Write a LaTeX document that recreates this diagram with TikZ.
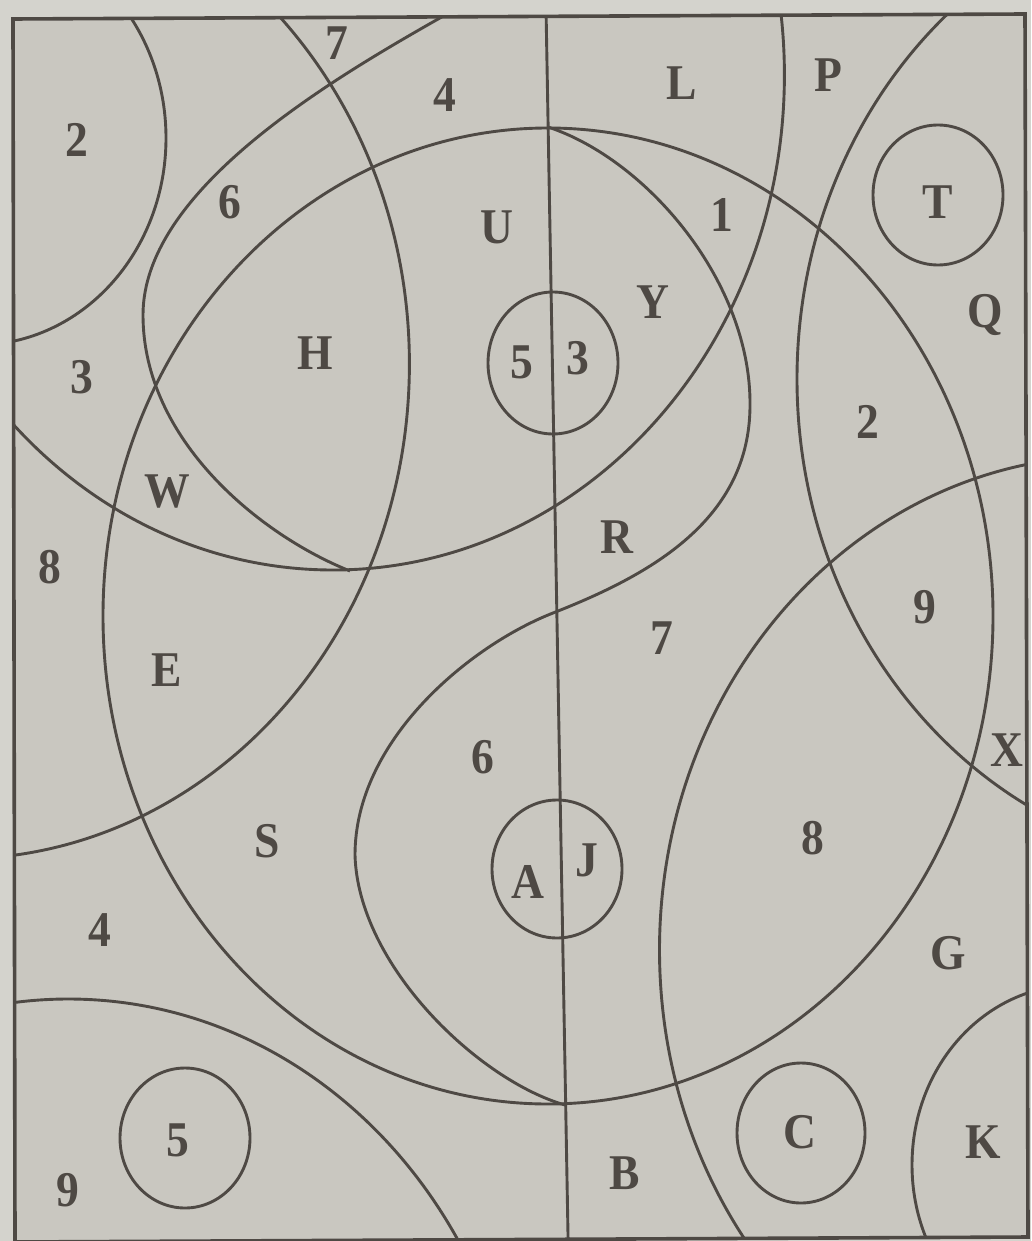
\documentclass[tikz,border=0pt]{standalone}
\usepackage{fontspec}
\setmainfont{Liberation Serif}[FakeStretch=0.912]
\definecolor{paper}{RGB}{201,199,192}
\definecolor{margin}{RGB}{212,211,205}
\definecolor{ink}{RGB}{78,73,68}
\begin{document}
\begin{tikzpicture}[x=1pt,y=-1pt,
  curve/.style={draw=ink,line width=2.9pt},
  framestyle/.style={draw=ink,line width=3.6pt,line join=miter},
  lbl/.style={text=ink,font=\bfseries\fontsize{50}{50}\selectfont,inner sep=0pt}]
\useasboundingbox (0,0) rectangle (1031,1241);
\fill[margin] (0,0) rectangle (1031,1241);
\coordinate (f1) at (13,19);
\coordinate (f2) at (1025,14);
\coordinate (f3) at (1028,1237);
\coordinate (f4) at (15,1242);
\fill[paper] (f1)--(f2)--(f3)--(f4)--cycle;
\begin{scope}
\clip (f1)--(f2)--(f3)--(f4)--cycle;
% vertical line
\coordinate (vtop) at (546,8);
\coordinate (vbot) at (568.2,1246);
\draw[curve] (vtop) -- (vbot);
% large circles (clipped by the frame)
\draw[curve] (-22.8,138) ellipse [x radius=188.8, y radius=207];
\draw[curve] (-42,364) ellipse [x radius=451.4, y radius=495];
\draw[curve] (333,75) ellipse [x radius=451.4, y radius=495];
\draw[curve] (548,616) ellipse [x radius=445, y radius=488];
\draw[curve] (1240,379) ellipse [x radius=443, y radius=486];
\draw[curve] (1110,950) ellipse [x radius=450.5, y radius=494];
\draw[curve] (1076,1165) ellipse [x radius=164, y radius=180];
\draw[curve] (68.4,1498) ellipse [x radius=455, y radius=499];
% egg-shaped curve (6 / H)
\coordinate (ea) at (447,14);
\coordinate (eb) at (143,315);
\coordinate (ec) at (350,571);
\draw[curve] (ea) .. controls (330,80) and (143,190) .. (eb)
                  .. controls (143,440) and (260,535) .. (ec);
% S-curve
\coordinate (sa) at (548,127);
\coordinate (sb) at (750,405);
\coordinate (sc) at (553,613);
\coordinate (sd) at (355,855);
\coordinate (se) at (565,1105);
\draw[curve] (sa) .. controls (648,160) and (751,283) .. (sb)
                  .. controls (750,520) and (650,575) .. (sc)
                  .. controls (470,645.5) and (355,740) .. (sd)
                  .. controls (358,965) and (478,1080) .. (se);
% small circles
\draw[curve] (553,363) ellipse [x radius=65, y radius=71];
\draw[curve] (557,869) ellipse [x radius=65, y radius=69];
\draw[curve] (938,195) ellipse [x radius=65, y radius=70];
\draw[curve] (801,1133) ellipse [x radius=64, y radius=70];
\draw[curve] (185,1138) ellipse [x radius=65, y radius=70];
\end{scope}
\draw[framestyle] (f1)--(f2)--(f3)--(f4)--cycle;
% labels
\node[lbl] (n2a) at (77,140) {2};
\node[lbl] (n7a) at (337,43) {7};
\node[lbl] (n4a) at (445,95) {4};
\node[lbl] (n6a) at (230,202) {6};
\node[lbl] (nL) at (682,83) {L};
\node[lbl] (nP) at (828,75) {P};
\node[lbl] (nU) at (497,227) {U};
\node[lbl] (n1) at (722,215) {1};
\node[lbl] (nT) at (938,202) {T};
\node[lbl] (nY) at (653,302) {Y};
\node[lbl] (nQ) at (985,315) {Q};
\node[lbl] (n5a) at (522,362) {5};
\node[lbl] (n3a) at (578,358) {3};
\node[lbl] (nH) at (315,353) {H};
\node[lbl] (n3b) at (82,377) {3};
\node[lbl] (nW) at (167,492) {W};
\node[lbl] (n8a) at (50,567) {8};
\node[lbl] (nE) at (167,670) {E};
\node[lbl] (nR) at (617,537) {R};
\node[lbl] (n2b) at (868,422) {2};
\node[lbl] (n9a) at (925,607) {9};
\node[lbl] (n7b) at (662,638) {7};
\node[lbl] (nX) at (1007,750) {X};
\node[lbl] (n6b) at (483,757) {6};
\node[lbl] (nS) at (267,841) {S};
\node[lbl] (nA) at (528,882) {A};
\node[lbl] (nJ) at (587,860) {J};
\node[lbl] (n8b) at (813,838) {8};
\node[lbl] (nG) at (948,953) {G};
\node[lbl] (n4b) at (100,930) {4};
\node[lbl] (n5b) at (178,1140) {5};
\node[lbl] (n9b) at (68,1190) {9};
\node[lbl] (nB) at (625,1173) {B};
\node[lbl] (nC) at (800,1132) {C};
\node[lbl] (nK) at (983,1142) {K};
\end{tikzpicture}
\end{document}
